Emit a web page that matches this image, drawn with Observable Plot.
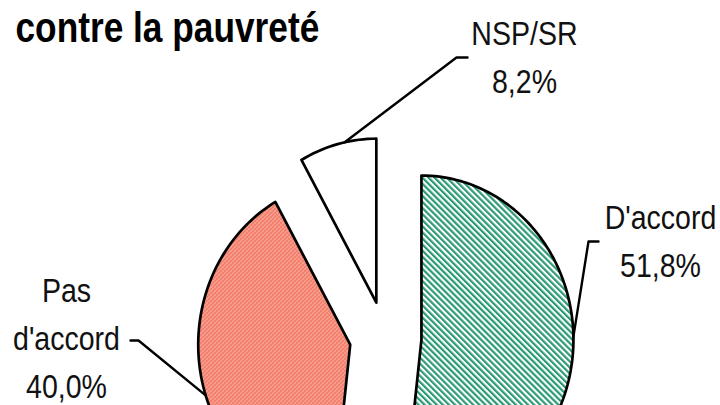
<!DOCTYPE html>
<html><head><meta charset="utf-8">
<script src="https://cdn.jsdelivr.net/npm/d3@7"></script>
<script src="https://cdn.jsdelivr.net/npm/@observablehq/plot@0.6"></script>
<style>body{margin:0;background:#fff}</style>
</head><body><div id="chart"></div>
<script>
// ---- data ----
const title = "contre la pauvreté";
const categories = ["D'accord", "Pas d'accord", "NSP/SR"];
const values = [51.8, 40.0, 8.2];
const valueLabels = ["51,8%", "40,0%", "8,2%"];
const labelTexts = ["D'accord", "Pas\nd'accord", "NSP/SR"];

// ---- layout (pixels) ----
const W = 720, H = 405;
const cx = 385, cy = 337, rx = 152, ry = 164, explode = 36;
const fills = ["url(#hatchGreen)", "url(#dotsSalmon)", "#ffffff"];
const labelPos = [ {x: 660, y: 237}, {x: 66, y: 334}, {x: 524, y: 53} ];
const leaderAngleDeg = [89, 252, 348];
const leaderElbow = [ [[588, 241], [598, 241]], [[138, 340], [130, 340]], [[456, 57], [467, 57]] ];

const arcs = d3.pie().sort(null).value(d => d)(values);
const slices = arcs.map((a, i) => {
  const mid = (a.startAngle + a.endAngle) / 2;
  const ax = cx + explode * Math.sin(mid), ay = cy - explode * Math.cos(mid);
  const pts = [{x: ax, y: ay}];
  const n = Math.max(4, Math.ceil((a.endAngle - a.startAngle) / 0.03));
  for (let k = 0; k <= n; k++) {
    const t = a.startAngle + (a.endAngle - a.startAngle) * k / n;
    pts.push({x: ax + rx * Math.sin(t), y: ay - ry * Math.cos(t)});
  }
  const la = leaderAngleDeg[i] * Math.PI / 180;
  const edge = {x: ax + rx * Math.sin(la), y: ay - ry * Math.cos(la)};
  return {name: categories[i], pts, edge, mid};
});

const marks = [];
slices.forEach((s, i) => {
  marks.push(Plot.line(s.pts, {x: "x", y: "y", curve: "linear-closed", fill: fills[i], stroke: "#000", strokeWidth: 2.7, strokeLinejoin: "round"}));
});
slices.forEach((s, i) => {
  const pts = [s.edge, ...leaderElbow[i].map(([x, y]) => ({x, y}))];
  marks.push(Plot.line(pts, {x: "x", y: "y", stroke: "#000", strokeWidth: 2.4}));
});
const labels = slices.map((s, i) => ({text: labelTexts[i] + "\n" + valueLabels[i], x: labelPos[i].x, y: labelPos[i].y}));
marks.push(Plot.text(labels, {x: "x", y: "y", text: "text", fontSize: 34, lineHeight: 1.41, textAnchor: "middle", fill: "#111"}));
marks.push(Plot.text([title], {x: () => 15, y: () => 28, text: d => d, fontSize: 42, fontWeight: "bold", textAnchor: "start", fill: "#000"}));

const chart = Plot.plot({
  width: W, height: H, margin: 0,
  x: {domain: [0, W], range: [0, W], axis: null},
  y: {domain: [0, H], range: [0, H], axis: null},
  style: {fontFamily: "'Liberation Sans', Arial, sans-serif", background: "#fff", overflow: "visible"},
  marks
});

// patterns
const ns = "http://www.w3.org/2000/svg";
const defs = document.createElementNS(ns, "defs");
defs.innerHTML = `
<pattern id="hatchGreen" patternUnits="userSpaceOnUse" width="4.3" height="8" patternTransform="rotate(-45)">
  <rect width="4.3" height="8" fill="#fff"/>
  <rect width="2.2" height="8" fill="#2b9a74"/>
</pattern>
<pattern id="dotsSalmon" patternUnits="userSpaceOnUse" width="4" height="4">
  <rect width="4" height="4" fill="#f27b69"/>
  <rect x="0" y="0" width="1" height="1" fill="#fcd6cc"/>
  <rect x="2" y="2" width="1" height="1" fill="#fde6df"/>
  <rect x="3" y="1" width="1" height="1" fill="#f8a796"/>
  <rect x="1" y="3" width="1" height="1" fill="#f8a796"/>
</pattern>`;
chart.insertBefore(defs, chart.firstChild);

// horizontal compression of the text (narrow glyphs of the original)
chart.querySelectorAll("text").forEach(t => {
  const tr = t.getAttribute("transform") || "";
  t.setAttribute("transform", tr + " scale(0.84,1)");
});
document.getElementById("chart").appendChild(chart);
</script>
</body></html>
